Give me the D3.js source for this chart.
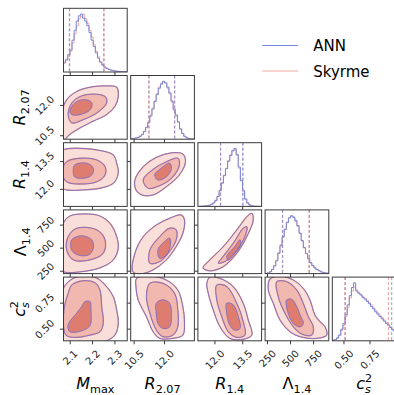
<!DOCTYPE html>
<html><head><meta charset="utf-8">
<script src="https://cdn.jsdelivr.net/npm/d3@7"></script>
<style>body{margin:0;background:#fff}svg{display:block;font-family:"DejaVu Sans",sans-serif}</style>
</head><body><svg id="c" width="394" height="395"></svg>
<script>
// ---------- data ----------
const ranges = [[2.07,2.355],[10.33,13.48],[11.08,14.52],[224,915],[0.388,1.0]];
const tickVals = [[2.1,2.2,2.3],[10.5,12.0],[12.0,13.5],[250,500,750],[0.5,0.75]];
const tickLabels = [["2.1","2.2","2.3"],["10.5","12.0"],["12.0","13.5"],["250","500","750"],["0.50","0.75"]];
const seriesNames = ["ANN","Skyrme"];

const histM_ANN = [0.17,0.22,0.30,0.38,0.55,0.72,0.88,0.97,1.00,0.93,0.88,0.80,0.68,0.55,0.44,0.33,0.24,0.17,0.12,0.085,0.06,0.045,0.03,0.022,0.016,0.012,0.008,0.006,0.004,0.003];
const histM_Sky = [0.15,0.20,0.27,0.36,0.50,0.66,0.80,0.92,0.96,1.00,0.92,0.84,0.72,0.60,0.47,0.36,0.26,0.18,0.13,0.09,0.065,0.05,0.035,0.025,0.018,0.013,0.01,0.007,0.005,0.003];
const histR207_ANN = [0.01,0.015,0.02,0.03,0.05,0.08,0.13,0.20,0.29,0.40,0.52,0.65,0.77,0.88,0.95,1.00,0.97,0.90,0.80,0.66,0.52,0.42,0.30,0.18,0.10,0.05,0.025,0.012,0.005,0.002];
const histR207_Sky = [0.008,0.012,0.02,0.03,0.055,0.085,0.14,0.21,0.30,0.42,0.54,0.66,0.79,0.90,0.97,0.99,0.98,0.88,0.78,0.64,0.50,0.40,0.29,0.17,0.095,0.05,0.025,0.01,0.004,0.002];
const histR14_ANN = [0,0.002,0.004,0.008,0.012,0.02,0.035,0.06,0.10,0.17,0.27,0.40,0.53,0.65,0.78,0.88,0.96,1.00,0.90,0.68,0.45,0.27,0.13,0.06,0.025,0.01,0.004,0.002,0.001,0];
const histR14_Sky = [0,0.002,0.005,0.008,0.013,0.022,0.038,0.065,0.11,0.18,0.28,0.41,0.54,0.66,0.79,0.89,0.97,0.99,0.88,0.66,0.44,0.26,0.12,0.055,0.022,0.009,0.004,0.002,0.001,0];
const histL14_ANN = [0.003,0.01,0.03,0.07,0.13,0.22,0.35,0.48,0.63,0.76,0.88,0.96,1.00,0.97,0.92,0.83,0.70,0.57,0.45,0.35,0.26,0.19,0.14,0.10,0.07,0.05,0.03,0.02,0.012,0.006];
const histL14_Sky = [0.003,0.012,0.032,0.075,0.14,0.23,0.36,0.50,0.64,0.77,0.89,0.97,0.99,0.98,0.90,0.81,0.69,0.56,0.44,0.34,0.25,0.18,0.13,0.095,0.068,0.048,0.03,0.02,0.011,0.006];
const histCs2_ANN = [0.01,0.02,0.05,0.10,0.20,0.30,0.45,0.62,0.78,0.92,1.00,0.86,0.82,0.79,0.75,0.72,0.68,0.64,0.59,0.55,0.50,0.46,0.42,0.38,0.34,0.30,0.27,0.23,0.19,0.16];
const histCs2_Sky = [0.008,0.02,0.045,0.09,0.18,0.27,0.42,0.58,0.74,0.86,0.93,0.88,0.84,0.80,0.76,0.73,0.70,0.66,0.62,0.57,0.52,0.48,0.44,0.40,0.36,0.32,0.28,0.24,0.20,0.17];

const quantANN = [[2.096,2.25],[11.24,12.51],[12.31,13.50],[415,704],[0.513,0.959]];
const quantSky = [[2.098,2.252],[11.22,12.50],[12.30,13.52],[412,700],[0.508,0.927]];

// contour levels (outer, middle, inner) in data units [x, y]
const cont_R207_M = [
 [[2.054,10.42],[2.063,11.69],[2.084,12.28],[2.129,12.69],[2.189,12.90],[2.263,12.97],[2.308,12.90],[2.315,12.44],[2.300,11.95],[2.263,11.55],[2.203,11.22],[2.144,10.89],[2.099,10.57],[2.063,10.22]],
 [[2.091,11.55],[2.108,12.13],[2.144,12.44],[2.203,12.56],[2.256,12.44],[2.263,12.12],[2.219,11.63],[2.159,11.30],[2.107,11.14]],
 [[2.099,11.71],[2.121,12.12],[2.166,12.28],[2.196,12.12],[2.189,11.79],[2.144,11.55],[2.107,11.55]]];
const cont_R14_M = [
 [[2.054,14.03],[2.081,14.18],[2.129,14.22],[2.219,14.13],[2.293,13.86],[2.308,13.41],[2.315,12.87],[2.293,12.33],[2.233,12.06],[2.159,11.97],[2.084,11.97],[2.054,12.18]],
 [[2.063,12.94],[2.084,13.49],[2.144,13.68],[2.219,13.59],[2.256,13.22],[2.256,12.78],[2.219,12.41],[2.144,12.29],[2.084,12.41]],
 [[2.121,13.32],[2.174,13.41],[2.203,13.14],[2.196,12.78],[2.159,12.60],[2.121,12.68],[2.114,13.05]]];
const cont_L14_M = [
 [[2.054,589],[2.072,784],[2.099,849],[2.166,871],[2.233,849],[2.278,770],[2.308,625],[2.315,500],[2.293,373],[2.233,286],[2.144,243],[2.072,243],[2.054,319]],
 [[2.091,625],[2.129,716],[2.219,698],[2.256,589],[2.248,445],[2.189,373],[2.114,373],[2.084,481]],
 [[2.107,589],[2.151,633],[2.196,589],[2.203,500],[2.181,427],[2.136,427],[2.107,481]]];
const cont_Cs2_M = [
 [[2.054,0.780],[2.084,0.940],[2.144,1.01],[2.219,0.991],[2.263,0.908],[2.293,0.811],[2.308,0.684],[2.315,0.556],[2.300,0.443],[2.248,0.376],[2.144,0.347],[2.063,0.347]],
 [[2.091,0.844],[2.107,0.924],[2.159,0.965],[2.211,0.946],[2.233,0.876],[2.241,0.715],[2.248,0.556],[2.233,0.475],[2.189,0.443],[2.129,0.421],[2.081,0.443],[2.072,0.684]],
 [[2.166,0.763],[2.189,0.763],[2.192,0.700],[2.189,0.539],[2.159,0.491],[2.099,0.475],[2.091,0.539],[2.129,0.652],[2.151,0.715]]];
const cont_R14_R207 = [
 [[10.54,12.51],[10.95,13.22],[11.60,13.73],[12.42,13.98],[12.91,13.91],[13.04,13.49],[12.74,12.78],[12.09,12.14],[11.44,11.70],[10.87,11.70],[10.59,11.97]],
 [[10.95,12.51],[11.44,13.08],[12.09,13.49],[12.66,13.68],[12.74,13.32],[12.42,12.68],[11.85,12.24],[11.19,12.06]],
 [[11.52,12.78],[11.85,13.14],[12.25,13.41],[12.34,13.14],[12.09,12.68],[11.68,12.51]]];
const cont_L14_R207 = [
 [[10.44,243],[10.54,445],[10.95,625],[11.60,752],[12.25,824],[12.83,860],[12.99,806],[12.91,662],[12.58,517],[12.09,373],[11.44,265],[10.79,221]],
 [[11.28,481],[11.77,625],[12.25,716],[12.58,698],[12.58,589],[12.25,463],[11.77,355],[11.28,337]],
 [[11.68,481],[12.01,571],[12.25,608],[12.29,535],[12.09,427],[11.77,391]]];
const cont_Cs2_R207 = [
 [[10.59,0.908],[10.62,0.988],[11.28,1.01],[12.09,0.972],[12.66,0.876],[12.91,0.715],[12.99,0.556],[12.91,0.443],[12.42,0.411],[11.77,0.411],[11.44,0.475],[11.11,0.619],[10.70,0.780]],
 [[11.11,0.811],[11.28,0.940],[11.93,0.940],[12.50,0.844],[12.66,0.684],[12.66,0.523],[12.42,0.443],[11.93,0.427],[11.60,0.491],[11.28,0.652]],
 [[11.60,0.748],[11.93,0.780],[12.25,0.748],[12.34,0.619],[12.25,0.523],[11.93,0.507],[11.68,0.556],[11.60,0.652]]];
const cont_L14_R14 = [
 [[13.985,878],[14.07,806],[13.72,625],[13.18,445],[12.45,300],[11.73,254],[11.36,286],[11.73,373],[12.45,517],[13.18,698],[13.72,841]],
 [[12.18,337],[12.37,391],[12.99,554],[13.53,716],[13.72,733],[13.62,625],[13.18,481],[12.54,355]],
 [[12.64,409],[13.08,517],[13.35,589],[13.39,535],[13.08,445],[12.72,373]]];
const cont_Cs2_R14 = [
 [[11.56,0.940],[11.73,1.001],[12.27,0.988],[12.99,0.908],[13.53,0.748],[13.80,0.587],[13.99,0.443],[13.53,0.402],[12.81,0.411],[12.27,0.523],[11.91,0.684],[11.64,0.844]],
 [[12.10,0.924],[12.64,0.908],[13.18,0.748],[13.53,0.571],[13.62,0.443],[13.18,0.421],[12.72,0.475],[12.37,0.619],[12.10,0.780]],
 [[12.64,0.748],[12.99,0.732],[13.26,0.619],[13.35,0.507],[13.08,0.491],[12.81,0.539],[12.64,0.652]]];
const cont_Cs2_L14 = [
 [[259,0.876],[277,0.982],[386,1.01],[530,0.972],[638,0.892],[711,0.780],[765,0.635],[820,0.571],[874,0.523],[892,0.443],[784,0.411],[603,0.427],[494,0.475],[386,0.587],[313,0.748]],
 [[350,0.956],[458,0.956],[567,0.876],[638,0.748],[693,0.619],[747,0.523],[730,0.443],[621,0.453],[530,0.523],[440,0.652],[367,0.811]],
 [[458,0.780],[513,0.786],[567,0.715],[603,0.635],[638,0.556],[603,0.523],[530,0.556],[476,0.652],[458,0.715]]];

// ---------- layout / style ----------
const N = 5, left0 = 63.5, top0 = 8.3, size = 63.7, step = 67.2;
const blue = "#5468d6", red = "#ec8b80";
const histBlue = "#7486dc", histRed = "#f2aaa1";
const fills = ["#f9dfda", "#f0b8af", "#de7c70"];
const frameColor = "#3a3a3a";

const svg = d3.select("#c");
const xS = ranges.map((r,i)=>d3.scaleLinear().domain(r).range([left0+step*i, left0+step*i+size]));
const yS = ranges.map((r,i)=>d3.scaleLinear().domain(r).range([top0+step*i+size, top0+step*i]));
const defs = svg.append("defs");

const hists = [[histM_ANN,histM_Sky],[histR207_ANN,histR207_Sky],[histR14_ANN,histR14_Sky],[histL14_ANN,histL14_Sky],[histCs2_ANN,histCs2_Sky]];
const pairs = [[1,0,cont_R207_M],[2,0,cont_R14_M],[3,0,cont_L14_M],[4,0,cont_Cs2_M],
  [2,1,cont_R14_R207],[3,1,cont_L14_R207],[4,1,cont_Cs2_R207],[3,2,cont_L14_R14],[4,2,cont_Cs2_R14],[4,3,cont_Cs2_L14]];

function clipFor(r,c){
  const id = `clip${r}_${c}`;
  defs.append("clipPath").attr("id",id).append("rect")
    .attr("x",left0+step*c).attr("y",top0+step*r).attr("width",size).attr("height",size);
  return `url(#${id})`;
}

// histograms
hists.forEach((pair,i)=>{
  const g = svg.append("g").attr("clip-path", clipFor(i,i));
  const [lo,hi] = ranges[i];
  const n = pair[0].length, w = (hi-lo)/n;
  const maxH = d3.max(pair.flat());
  const ys = d3.scaleLinear().domain([0, maxH*1.1]).range([top0+step*i+size, top0+step*i]);
  const line = d3.line().curve(d3.curveStepAfter).x(d=>xS[i](d[0])).y(d=>ys(d[1]));
  [[pair[1],histRed],[pair[0],histBlue]].forEach(([h,col])=>{
    const pts = h.map((v,k)=>[lo+k*w, v]); pts.push([hi, h[n-1]]);
    g.append("path").attr("d",line(pts)).attr("fill","none").attr("stroke",col).attr("stroke-width",1);
  });
  [[quantSky[i],red],[quantANN[i],histBlue]].forEach(([q,col])=>{
    q.forEach(v=>g.append("line").attr("x1",xS[i](v)).attr("x2",xS[i](v))
      .attr("y1",top0+step*i).attr("y2",top0+step*i+size)
      .attr("stroke",col).attr("stroke-width",1).attr("stroke-dasharray","3,2").attr("opacity",0.8));
  });
});

// 2D panels
const curve = d3.curveCatmullRomClosed.alpha(0.5);
pairs.forEach(([r,c,levels])=>{
  const g = svg.append("g").attr("clip-path", clipFor(r,c));
  const line = d3.line().curve(curve).x(d=>xS[c](d[0])).y(d=>yS[r](d[1]));
  levels.forEach((lv,k)=>g.append("path").attr("d",line(lv)).attr("fill",fills[k]).attr("stroke","none"));
  levels.forEach(lv=>g.append("path").attr("d",line(lv)).attr("fill","none").attr("stroke",red).attr("stroke-width",1.3));
  levels.forEach(lv=>g.append("path").attr("d",line(lv)).attr("fill","none").attr("stroke",blue).attr("stroke-width",0.8).attr("opacity",0.85));
});

// frames and ticks
const tickLen = 3.5;
for (let r=0;r<N;r++) for (let c=0;c<=r;c++){
  const x0 = left0+step*c, y0 = top0+step*r;
  svg.append("rect").attr("x",x0).attr("y",y0).attr("width",size).attr("height",size)
    .attr("fill","none").attr("stroke",frameColor).attr("stroke-width",1);
  tickVals[c].forEach(v=>svg.append("line").attr("x1",xS[c](v)).attr("x2",xS[c](v))
    .attr("y1",y0+size).attr("y2",y0+size+tickLen).attr("stroke",frameColor).attr("stroke-width",1));
  if (r!==c) tickVals[r].forEach(v=>svg.append("line").attr("x1",x0-tickLen).attr("x2",x0)
    .attr("y1",yS[r](v)).attr("y2",yS[r](v)).attr("stroke",frameColor).attr("stroke-width",1));
}

// tick labels (rotated 45 deg)
const tfs = 10, th = 11, pad = 3.5;
function rotLabel(txt){
  return svg.append("text").attr("font-size",tfs).attr("fill","#222")
    .attr("text-anchor","middle").attr("dominant-baseline","central").text(txt);
}
for (let c=0;c<N;c++){
  const yb = top0+step*4+size+tickLen+pad;
  tickVals[c].forEach((v,k)=>{
    const t = rotLabel(tickLabels[c][k]);
    const w = t.node().getComputedTextLength();
    const b = (w+th)/Math.SQRT2;
    const cx = xS[c](v), cy = yb + b/2;
    t.attr("x",cx).attr("y",cy).attr("transform",`rotate(-45,${cx},${cy})`);
  });
}
for (let r=1;r<N;r++){
  const xr = left0 - tickLen - pad;
  tickVals[r].forEach((v,k)=>{
    const t = rotLabel(tickLabels[r][k]);
    const w = t.node().getComputedTextLength();
    const b = (w+th)/Math.SQRT2;
    const cx = xr - b/2, cy = yS[r](v);
    t.attr("x",cx).attr("y",cy).attr("transform",`rotate(-45,${cx},${cy})`);
  });
}

// axis labels (math style)
const axisLabels = [
  [{t:"M",it:1},{t:"max",sub:1}],
  [{t:"R",it:1},{t:"2.07",sub:1}],
  [{t:"R",it:1},{t:"1.4",sub:1}],
  [{t:"Λ"},{t:"1.4",sub:1}],
  [{t:"c",it:1},{t:"s",it:1,sub:1},{t:"2",sup:1}]
];
const lfs = 16;
function buildLabel(text, parts){
  let prevShift = 0;
  parts.forEach(p=>{
    const ts = text.append("tspan").text(p.t);
    if (p.it) ts.attr("font-style","italic");
    let shift = 0;
    if (p.sub){ ts.attr("font-size",lfs*0.7); shift = 4; }
    if (p.sup){ ts.attr("font-size",lfs*0.7); shift = -7; ts.attr("dx",-6); }
    if (shift!==prevShift) ts.attr("dy", shift-prevShift);
    prevShift = shift;
  });
}
for (let i=0;i<N;i++){
  const cx = left0+step*i+size/2;
  const t = svg.append("text").attr("font-size",lfs).attr("fill","#000")
    .attr("text-anchor","middle").attr("x",cx).attr("y",388.5);
  buildLabel(t, axisLabels[i]);
}
for (let i=1;i<N;i++){
  const cy = top0+step*i+size/2;
  const bx = 25.5;
  const t = svg.append("text").attr("font-size",lfs).attr("fill","#000")
    .attr("text-anchor","middle").attr("x",bx).attr("y",cy).attr("transform",`rotate(-90,${bx},${cy})`);
  buildLabel(t, axisLabels[i]);
}

// legend
const legY = [45.5, 71];
[[seriesNames[0],histBlue],[seriesNames[1],histRed]].forEach(([name,col],k)=>{
  svg.append("line").attr("x1",262.3).attr("x2",298.3).attr("y1",legY[k]).attr("y2",legY[k])
    .attr("stroke",col).attr("stroke-width",1);
  svg.append("text").attr("x",313.3).attr("y",legY[k]+5.5).attr("font-size",15).attr("fill","#000").text(name);
});
</script></body></html>
